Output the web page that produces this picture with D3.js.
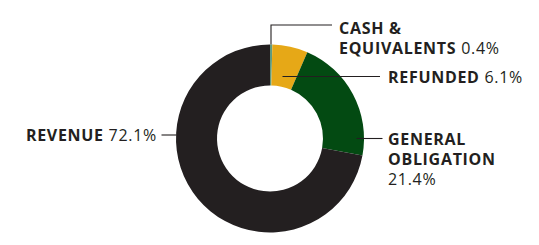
<!DOCTYPE html>
<html>
<head>
<meta charset="utf-8">
<script src="https://d3js.org/d3.v7.min.js"></script>
<style>
body { margin: 0; background: #fff; }
text { font-family: "Open Sans", "Noto Sans", sans-serif; fill: #231f20; }
</style>
</head>
<body>
<script>
// data
var categories = ["CASH & EQUIVALENTS", "REFUNDED", "GENERAL OBLIGATION", "REVENUE"];
var shares = [0.4, 6.1, 21.4, 72.1];
var colors = ["#5f9a80", "#e6a817", "#034a12", "#231f20"];

var width = 539, height = 245,
    cx = 270, cy = 138.5,
    outerR = 94, innerR = 53;

var svg = d3.select("body").append("svg")
    .attr("width", width)
    .attr("height", height);

var g = svg.append("g")
    .attr("transform", "translate(" + cx + "," + cy + ")");

var pie = d3.pie().sort(null).value(function(d) { return d; });
var arc = d3.arc().innerRadius(innerR).outerRadius(outerR);
var arcs = pie(shares);

g.selectAll("path")
  .data(arcs)
  .enter()
  .append("path")
  .attr("d", arc)
  .attr("fill", function(d, i) { return colors[i]; });

// leader lines, point on slice -> label (relative to center)
var leaders = [
  [[1, -94], [1, -113.5], [62, -113.5]],
  [[12.5, -62], [110, -62]],
  [[86.5, 0], [112.5, 0]],
  [[-93.5, -3.5], [-108.5, -3.5]]
];
g.selectAll("polyline")
  .data(leaders)
  .enter()
  .append("polyline")
  .attr("points", function(d) { return d.join(" "); })
  .attr("fill", "none")
  .attr("stroke", "#231f20")
  .attr("stroke-width", 1.1);

// labels: lines of [bold, regular]
var labels = [
  { x: 339, y: 34, anchor: "start", lines: [["CASH &", ""], ["EQUIVALENTS", " " + shares[0] + "%"]] },
  { x: 388, y: 83, anchor: "start", lines: [["REFUNDED", " " + shares[1] + "%"]] },
  { x: 388, y: 145, anchor: "start", lines: [["GENERAL", ""], ["OBLIGATION", ""], ["", shares[2] + "%"]] },
  { x: 157, y: 141, anchor: "end", lines: [["REVENUE", " " + shares[3] + "%"]] }
];

labels.forEach(function(l) {
  l.lines.forEach(function(ln, j) {
    var t = svg.append("text")
      .attr("x", l.x)
      .attr("y", l.y + j * 19.8)
      .attr("text-anchor", l.anchor)
      .style("font-size", "16px")
      .style("letter-spacing", "0.7px");
    if (ln[0]) t.append("tspan").style("font-weight", "bold").text(ln[0]);
    if (ln[1]) t.append("tspan").text(ln[1]);
  });
});
</script>
</body>
</html>
